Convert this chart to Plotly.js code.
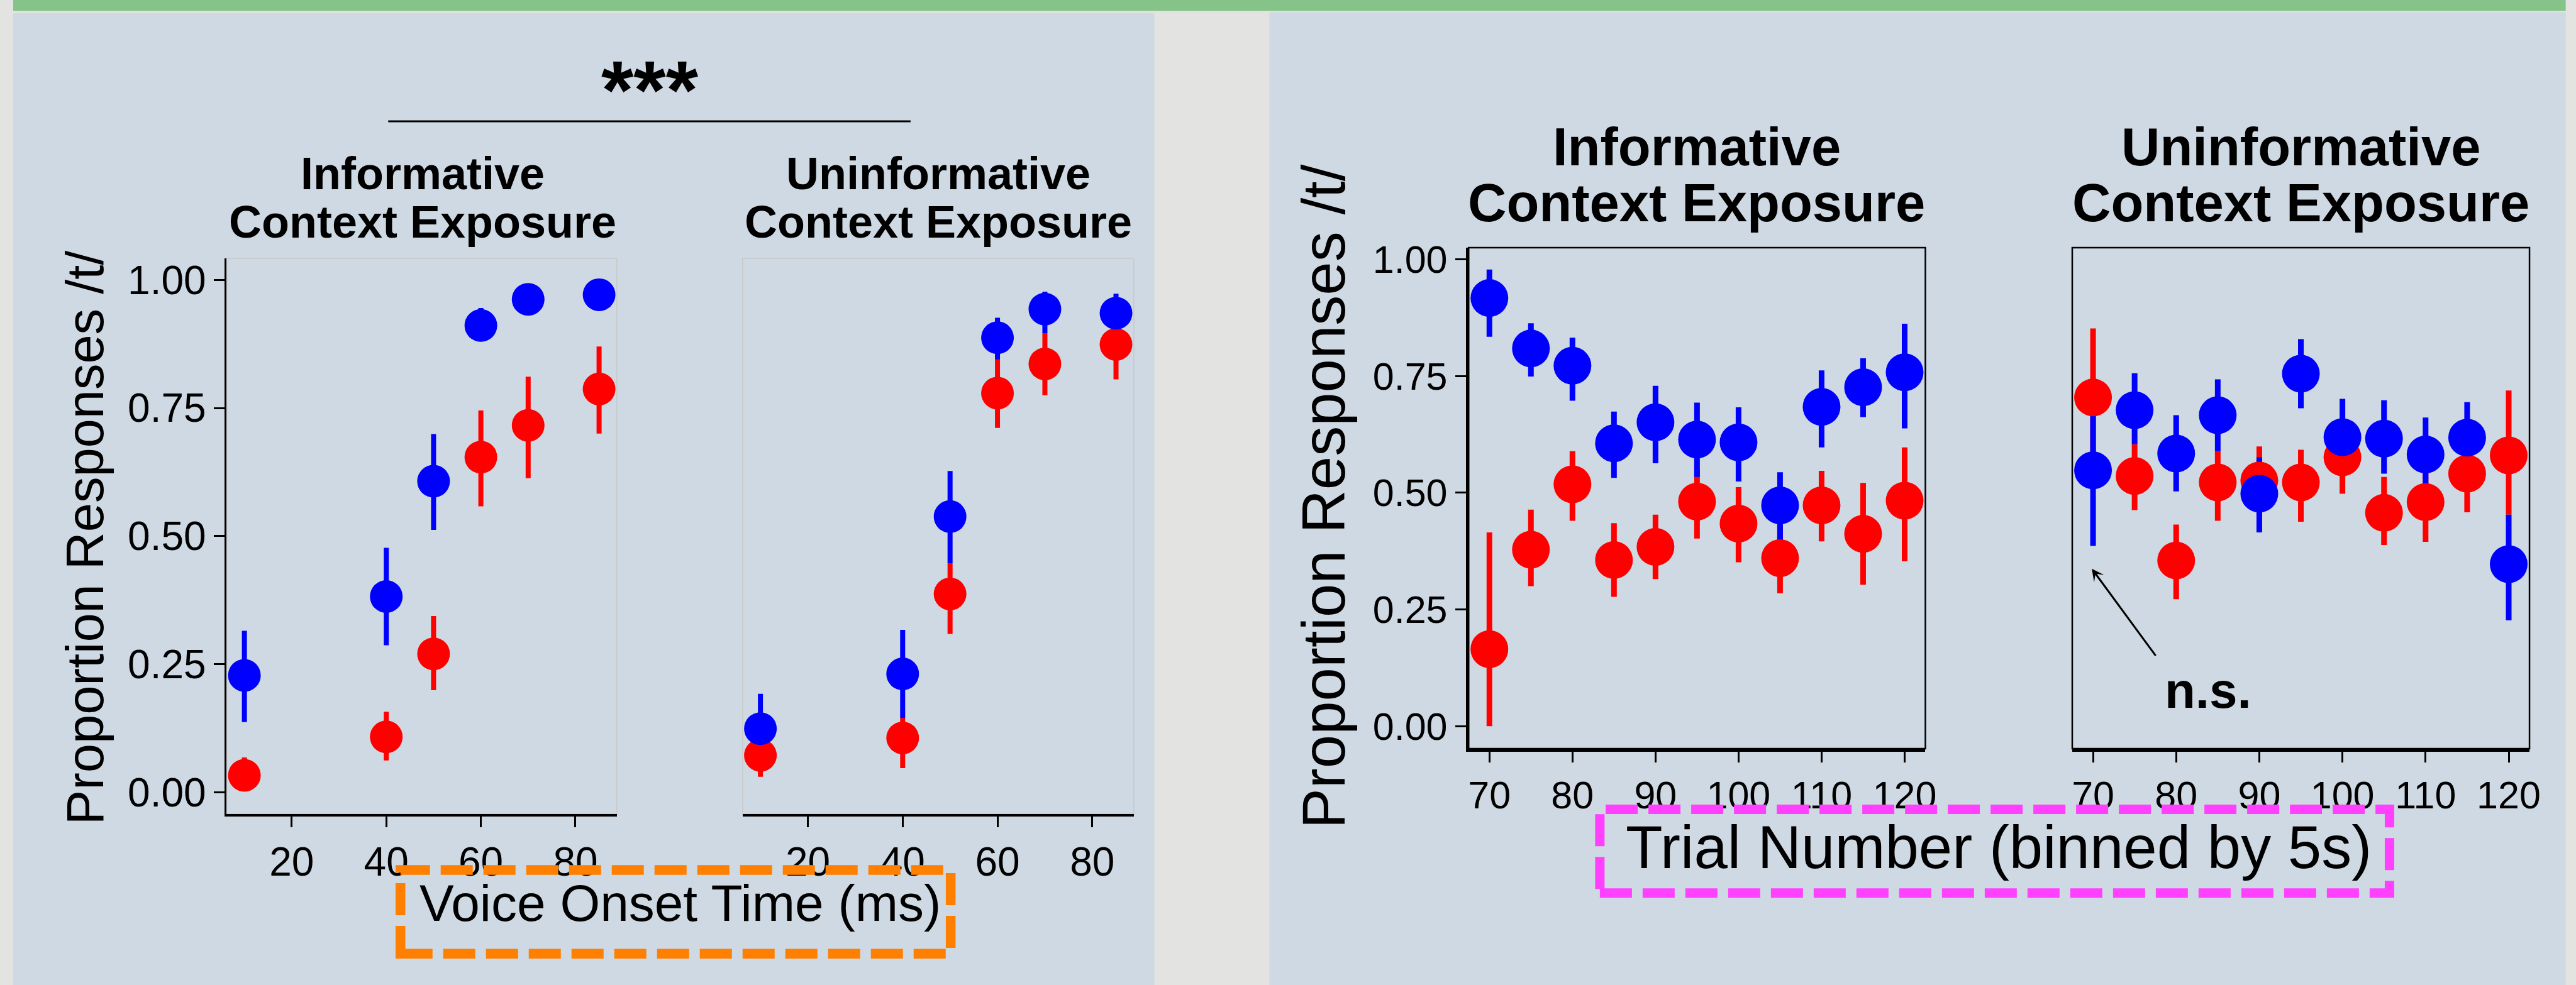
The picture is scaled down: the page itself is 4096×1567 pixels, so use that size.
<!DOCTYPE html>
<html>
<head>
<meta charset="utf-8">
<script src="https://cdn.plot.ly/plotly-3.0.1.min.js"></script>
<style>
html,body{margin:0;padding:0;background:#e3e3e1;}
#chart{width:4096px;height:1567px;}
</style>
</head>
<body>
<div id="chart"></div>
<script>
// ---------- DATA ----------
var votLevels = [10, 40, 50, 60, 70, 85];
var votTicks = [20, 40, 60, 80];
var trialBins = [70, 75, 80, 85, 90, 95, 100, 105, 110, 115, 120];
var trialTicks = [70, 80, 90, 100, 110, 120];
var propTicks = [0, 0.25, 0.5, 0.75, 1];
var propTickText = ['0.00', '0.25', '0.50', '0.75', '1.00'];

// Informative context, VOT
var infVotBlue   = [0.228, 0.382, 0.607, 0.911, 0.962, 0.971];
var infVotBlueLo = [0.137, 0.287, 0.512, 0.880, 0.950, 0.960];
var infVotBlueHi = [0.315, 0.477, 0.699, 0.945, 0.975, 0.982];
var infVotRed    = [0.033, 0.108, 0.270, 0.654, 0.716, 0.787];
var infVotRedLo  = [0.005, 0.062, 0.199, 0.558, 0.613, 0.700];
var infVotRedHi  = [0.068, 0.157, 0.344, 0.745, 0.811, 0.870];

// Uninformative context, VOT
var uninfVotBlue   = [0.124, 0.231, 0.538, 0.887, 0.943, 0.935];
var uninfVotBlueLo = [0.080, 0.145, 0.447, 0.844, 0.896, 0.900];
var uninfVotBlueHi = [0.192, 0.317, 0.627, 0.926, 0.977, 0.973];
var uninfVotRed    = [0.072, 0.106, 0.387, 0.779, 0.836, 0.874];
var uninfVotRedLo  = [0.030, 0.047, 0.309, 0.711, 0.775, 0.806];
var uninfVotRedHi  = [0.110, 0.145, 0.447, 0.844, 0.896, 0.920];

// Informative context, trial number
var infTrialBlue   = [0.917, 0.809, 0.772, 0.606, 0.651, 0.614, 0.608, 0.473, 0.684, 0.726, 0.758];
var infTrialBlueLo = [0.834, 0.749, 0.697, 0.532, 0.563, 0.534, 0.524, 0.398, 0.597, 0.662, 0.638];
var infTrialBlueHi = [0.978, 0.863, 0.832, 0.674, 0.729, 0.693, 0.683, 0.544, 0.762, 0.788, 0.862];
var infTrialRed    = [0.165, 0.378, 0.518, 0.356, 0.384, 0.481, 0.434, 0.360, 0.473, 0.412, 0.483];
var infTrialRedLo  = [0.000, 0.300, 0.440, 0.277, 0.315, 0.402, 0.351, 0.285, 0.396, 0.303, 0.353];
var infTrialRedHi  = [0.415, 0.464, 0.589, 0.435, 0.453, 0.550, 0.512, 0.430, 0.547, 0.521, 0.597];

// Uninformative context, trial number
var uninfTrialBlue   = [0.548, 0.677, 0.584, 0.666, 0.498, 0.755, 0.619, 0.616, 0.582, 0.618, 0.347];
var uninfTrialBlueLo = [0.386, 0.604, 0.503, 0.589, 0.415, 0.681, 0.539, 0.541, 0.500, 0.544, 0.227];
var uninfTrialBlueHi = [0.710, 0.756, 0.666, 0.743, 0.576, 0.829, 0.701, 0.698, 0.661, 0.694, 0.453];
var uninfTrialRed    = [0.704, 0.536, 0.355, 0.522, 0.526, 0.522, 0.576, 0.457, 0.480, 0.541, 0.580];
var uninfTrialRedLo  = [0.560, 0.463, 0.272, 0.440, 0.450, 0.438, 0.498, 0.388, 0.395, 0.458, 0.453];
var uninfTrialRedHi  = [0.852, 0.604, 0.432, 0.589, 0.599, 0.592, 0.640, 0.534, 0.550, 0.614, 0.719];

var titleTop = ['Informative', 'Uninformative'];
var titleBottom = 'Context Exposure';
var yTitle = 'Proportion Responses /t/';
var votTitle = 'Voice Onset Time (ms)';
var trialTitle = 'Trial Number (binned by 5s)';

// ---------- HELPERS (layout geometry, reference px -> paper) ----------
var REFW = 5262, REFH = 2013;
function px(x){ return x / REFW; }
function py(y){ return 1 - y / REFH; }
var FONT = 'Liberation Sans, Arial, Helvetica, sans-serif';
var BLUE = '#0000ff', RED = '#ff0000';

function diff(a, b){ return a.map(function(v, i){ return v - b[i]; }); }

function group(x, yB, loB, hiB, yR, loR, hiR, xa, ya, msize, thick){
  function bars(y, lo, hi, col){
    return {x: x, y: y, xaxis: xa, yaxis: ya, type: 'scatter', mode: 'markers',
      marker: {size: 1, color: 'rgba(0,0,0,0)'}, hoverinfo: 'skip',
      error_y: {type: 'data', symmetric: false, array: diff(hi, y), arrayminus: diff(y, lo),
        width: 0, thickness: thick, color: col}};
  }
  function pts(y, col){
    return {x: x, y: y, xaxis: xa, yaxis: ya, type: 'scatter', mode: 'markers',
      marker: {size: msize, color: col, line: {width: 0}}, hoverinfo: 'skip'};
  }
  return [bars(yR, loR, hiR, RED), bars(yB, loB, hiB, BLUE), pts(yR, RED), pts(yB, BLUE)];
}

var traces = [].concat(
  group(votLevels, infVotBlue, infVotBlueLo, infVotBlueHi, infVotRed, infVotRedLo, infVotRedHi, 'x', 'y', 52, 8),
  group(votLevels, uninfVotBlue, uninfVotBlueLo, uninfVotBlueHi, uninfVotRed, uninfVotRedLo, uninfVotRedHi, 'x2', 'y2', 52, 8),
  group(trialBins, infTrialBlue, infTrialBlueLo, infTrialBlueHi, infTrialRed, infTrialRedLo, infTrialRedHi, 'x3', 'y3', 60, 9),
  group(trialBins, uninfTrialBlue, uninfTrialBlueLo, uninfTrialBlueHi, uninfTrialRed, uninfTrialRedLo, uninfTrialRedHi, 'x4', 'y4', 60, 9)
);

function xAxis(anchor, dom, range, ticks, fs, lw){
  return {anchor: anchor, domain: dom, range: range, tickmode: 'array', tickvals: ticks,
    ticks: 'outside', ticklen: 17, tickwidth: 3, tickcolor: '#000',
    showline: true, linecolor: '#000', linewidth: lw, showgrid: false, zeroline: false,
    tickfont: {family: FONT, size: fs, color: '#000'}, fixedrange: true};
}
function yAxis(anchor, dom, range, show, fs, lw){
  return {anchor: anchor, domain: dom, range: range, tickmode: 'array', tickvals: propTicks, ticktext: propTickText,
    ticks: show ? 'outside' : '', ticklen: 17, tickwidth: 3, tickcolor: '#000',
    showticklabels: show, showline: show, linecolor: '#000', linewidth: lw,
    showgrid: false, zeroline: false,
    tickfont: {family: FONT, size: fs, color: '#000'}, fixedrange: true};
}

var yDomL = [py(1663), py(528)];
var yDomR = [py(1530), py(506)];

var layout = {
  width: 4096, height: 1567,
  margin: {l: 0, r: 0, t: 0, b: 0, pad: 0},
  paper_bgcolor: '#e3e3e1', plot_bgcolor: 'rgba(0,0,0,0)',
  showlegend: false,
  xaxis:  xAxis('y',  [px(463), px(1260)], [6.25, 88.75], votTicks, 64, 4.5),
  yaxis:  yAxis('x',  yDomL, [-0.042, 1.042], true, 64, 3),
  xaxis2: xAxis('y2', [px(1517), px(2316)], [6.25, 88.75], votTicks, 64, 4.5),
  yaxis2: yAxis('x2', yDomL, [-0.042, 1.042], false, 64, 3),
  xaxis3: xAxis('y3', [px(3000), px(3933)], [67.5, 122.5], trialTicks, 61, 5),
  yaxis3: yAxis('x3', yDomR, [-0.048, 1.025], true, 61, 4.5),
  xaxis4: xAxis('y4', [px(4233), px(5167)], [67.5, 122.5], trialTicks, 61, 5),
  yaxis4: yAxis('x4', yDomR, [-0.048, 1.025], false, 61, 3),
  shapes: [
    {type: 'rect', xref: 'paper', yref: 'paper', layer: 'below', x0: px(27), x1: px(5241), y0: py(0), y1: py(22),
      fillcolor: '#85c388', line: {width: 0}},
    {type: 'rect', xref: 'paper', yref: 'paper', layer: 'below', x0: px(27), x1: px(2358), y0: py(2020), y1: py(27),
      fillcolor: '#cfd9e3', line: {width: 0}},
    {type: 'rect', xref: 'paper', yref: 'paper', layer: 'below', x0: px(2593), x1: px(5241), y0: py(2020), y1: py(25),
      fillcolor: '#cfd9e3', line: {width: 0}},
    {type: 'rect', xref: 'x domain', yref: 'y domain', layer: 'below', x0: 0, x1: 1, y0: 0, y1: 1,
      line: {color: '#c9c9c9', width: 1.6}},
    {type: 'rect', xref: 'x2 domain', yref: 'y2 domain', layer: 'below', x0: 0, x1: 1, y0: 0, y1: 1,
      line: {color: '#c9c9c9', width: 1.6}},
    {type: 'rect', xref: 'x3 domain', yref: 'y3 domain', layer: 'below', x0: 0, x1: 1, y0: 0, y1: 1,
      line: {color: '#000', width: 2.5}},
    {type: 'rect', xref: 'x4 domain', yref: 'y4 domain', layer: 'below', x0: 0, x1: 1, y0: 0, y1: 1,
      line: {color: '#000', width: 2.5}},
    {type: 'line', xref: 'paper', yref: 'paper', x0: px(793), x1: px(1860), y0: py(248), y1: py(248),
      line: {color: '#000', width: 3}},
    {type: 'rect', xref: 'paper', yref: 'paper', x0: px(818), x1: px(1942), y0: py(1949), y1: py(1778),
      line: {color: '#ff7f00', width: 15.5, dash: '51px,17px'}},
    {type: 'rect', xref: 'paper', yref: 'paper', x0: px(3268), x1: px(4881), y0: py(1825), y1: py(1654),
      line: {color: '#ff40ff', width: 15, dash: '51px,17px'}}
  ],
  annotations: []
};

function ann(text, x, y, size, bold, extra){
  var a = {text: bold ? '<b>' + text + '</b>' : text, xref: 'paper', yref: 'paper', x: px(x), y: py(y),
    xanchor: 'center', yanchor: 'middle', showarrow: false,
    font: {family: FONT, size: size, color: '#000'}};
  if (extra) for (var k in extra) a[k] = extra[k];
  layout.annotations.push(a);
}
// panel titles
ann(titleTop[0], 863, 354, 72, true);
ann(titleBottom, 863, 454, 72, true);
ann(titleTop[1], 1917, 354, 72, true);
ann(titleBottom, 1917, 454, 72, true);
ann(titleTop[0], 3466, 300, 85, true);
ann(titleBottom, 3466, 414, 85, true);
ann(titleTop[1], 4700, 300, 85, true);
ann(titleBottom, 4700, 414, 85, true);
// significance
ann('***', 1328, 184, 132, true);
ann('n.s.', 4510, 1411, 80, true);
// axis titles
ann(yTitle, 174, 1098, 83, false, {textangle: -90});
ann(yTitle, 2703, 1015, 96, false, {textangle: -90});
ann(votTitle, 1390, 1845, 82, false);
ann(trialTitle, 4083, 1731, 96, false);
// arrow
layout.annotations.push({text: '', xref: 'x4', yref: 'y4', axref: 'x4', ayref: 'y4',
  x: 69.85, y: 0.3375, ax: 77.62, ay: 0.149, showarrow: true,
  arrowhead: 3, arrowsize: 1.1, arrowwidth: 3, arrowcolor: '#000', standoff: 0, startstandoff: 0});

Plotly.newPlot('chart', traces, layout, {staticPlot: true, displayModeBar: false});
</script>
</body>
</html>
